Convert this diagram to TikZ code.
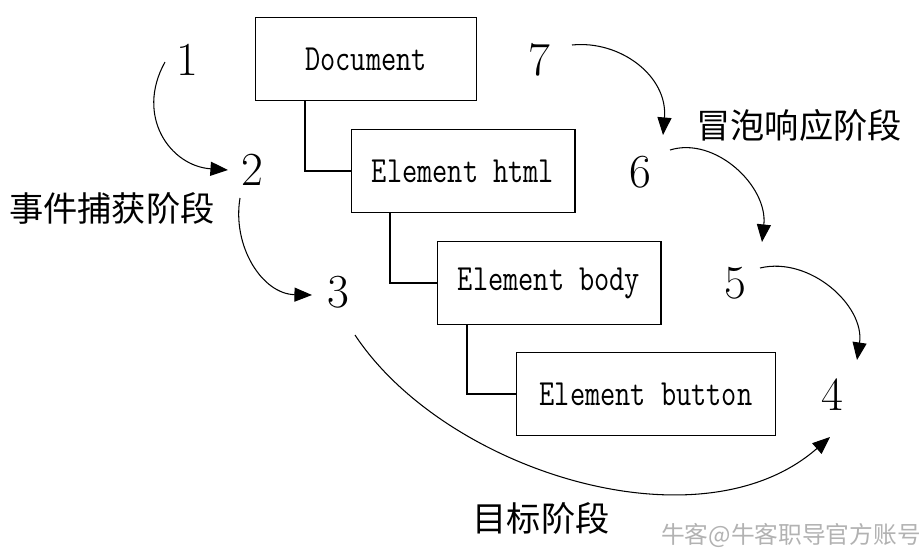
\documentclass[tikz,border=0pt]{standalone}
\usepackage{fontspec}
\usepackage{tikz}
\usetikzlibrary{positioning, calc, arrows.meta}
\newfontfamily\cjk{Noto Sans CJK SC}
\newfontfamily\domfont[FakeStretch=0.8]{Latin Modern Mono}

\begin{document}
\begin{tikzpicture}[x=0.02cm, y=0.02cm,
    box/.style={draw, line width=0.6pt, minimum height=1.65cm, inner sep=0pt,
                font=\domfont\fontsize{21}{22}\selectfont},
    num/.style={inner sep=0pt, font=\fontsize{27}{27}\selectfont},
    phase/.style={inner sep=0pt, font=\cjk\fontsize{19.5}{20}\selectfont},
    flow/.style={line width=0.6pt, -{Triangle[length=10pt, width=8pt]}},
    link/.style={line width=0.6pt}]
  \useasboundingbox (0,0) rectangle (919,556);

  % the DOM tree
  \node[box, minimum width=4.42cm] (doc)    at (366,497) {Document};
  \node[box, minimum width=4.48cm] (html)   at (463,385) {Element html};
  \node[box, minimum width=4.48cm] (body)   at (549,273) {Element body};
  \node[box, minimum width=5.18cm] (button) at (646,162) {Element button};

  \draw[link] ([xshift=-1.22cm]doc.south)  |- (html.west);
  \draw[link] ([xshift=-1.46cm]html.south) |- (body.west);
  \draw[link] ([xshift=-1.64cm]body.south) |- (button.west);

  % event steps
  \node[num] (n1) at (187,496) {1};
  \node[num] (n2) at (252,386) {2};
  \node[num] (n3) at (338,264) {3};
  \node[num] (n4) at (832,161) {4};
  \node[num] (n5) at (735,273) {5};
  \node[num] (n6) at (640,384) {6};
  \node[num] (n7) at (539,496) {7};

  % capture
  \draw[flow] ($(n1)+(-22,-2)$) .. controls +(-30,-54) and +(-58,4) .. ($(n2)+(-24,0)$);
  \draw[flow] ($(n2)+(-12,-28)$) .. controls +(-8,-48) and +(-50,1) .. ($(n3)+(-26,-3)$);
  % target
  \draw[flow] ($(n3)+(17,-43)$) .. controls +(90,-136) and +(-130,-114) .. ($(n4)+(-2,-42)$);
  % bubble
  \draw[flow] ($(n7)+(33,15)$) .. controls +(48,5) and +(5,59) .. ($(n6)+(23,37)$);
  \draw[flow] ($(n6)+(30,22)$) .. controls +(45,14) and +(6,56) .. ($(n5)+(27,41)$);
  \draw[flow] ($(n5)+(25,15)$) .. controls +(50,12) and +(8,54) .. ($(n4)+(25,35)$);

  \node[phase] (capture) at (112,348) {事件捕获阶段};
  \node[phase] (bubble)  at (799,431) {冒泡响应阶段};
  \node[phase] (target)  at (541,38)  {目标阶段};

  \node[inner sep=0pt, text=black!30, font=\cjk\fontsize{13.5}{14}\selectfont]
       (mark) at (791,21) {牛客@牛客职导官方账号};
\end{tikzpicture}
\end{document}
